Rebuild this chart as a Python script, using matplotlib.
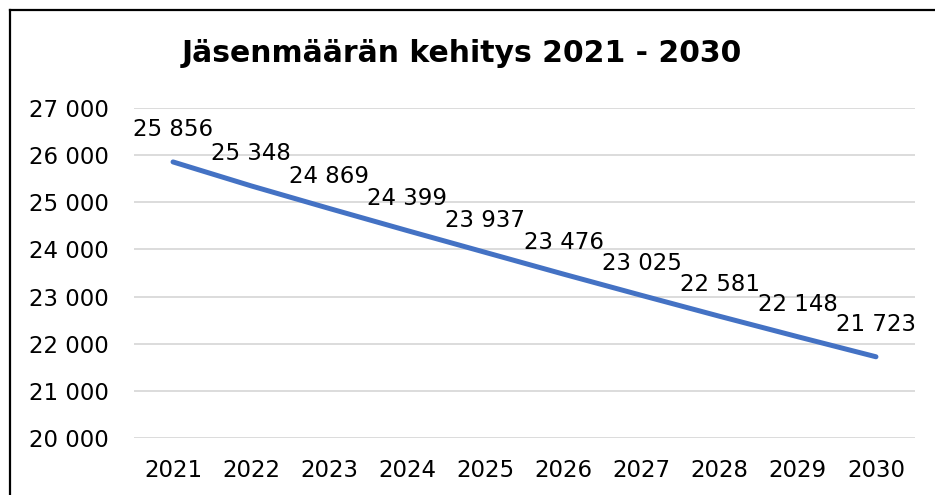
import matplotlib
matplotlib.use("Agg")
import matplotlib.pyplot as plt
from matplotlib.lines import Line2D
from matplotlib.ticker import FuncFormatter

years = ["2021", "2022", "2023", "2024", "2025", "2026", "2027", "2028", "2029", "2030"]
members = [25856, 25348, 24869, 24399, 23937, 23476, 23025, 22581, 22148, 21723]
y_ticks = [20000, 21000, 22000, 23000, 24000, 25000, 26000, 27000]


def fmt(v):
    return f"{int(v):,}".replace(",", " ")


plt.rcParams["font.family"] = ["DejaVu Sans"]

fig = plt.figure(figsize=(9.35, 4.95), dpi=100)
ax = fig.add_axes([134 / 935, 1 - 438 / 495, (915 - 134) / 935, (438 - 108) / 495])

x = list(range(len(years)))
ax.plot(x, members, color="#4472C4", linewidth=3.6, solid_capstyle="round", zorder=3)

for xi, v in zip(x, members):
    ax.annotate(fmt(v), (xi, v), xytext=(0, 23), textcoords="offset points",
                ha="center", va="center", fontsize=16.5, color="black", zorder=4)

ax.set_xlim(-0.5, len(years) - 0.5)
ax.set_ylim(20000, 27000)
ax.set_yticks(y_ticks)
ax.yaxis.set_major_formatter(FuncFormatter(lambda v, p: fmt(v)))
ax.set_xticks(x)
ax.set_xticklabels(years)
ax.tick_params(axis="both", length=0, labelsize=16.5, colors="black")
ax.tick_params(axis="y", pad=18)
ax.tick_params(axis="x", pad=15)
ax.grid(axis="y", color="#D9D9D9", linewidth=1.3)
ax.set_axisbelow(True)
for s in ax.spines.values():
    s.set_visible(False)

fig.text(462 / 935, 1 - 54 / 495, "Jäsenmäärän kehitys 2021 - 2030",
         ha="center", va="center", fontsize=21.5, fontweight="bold")

# outer frame (only top and left edges visible in the crop)
fig.add_artist(Line2D([9.5 / 935, 1], [1 - 9.5 / 495, 1 - 9.5 / 495],
                      transform=fig.transFigure, color="black", linewidth=1.6))
fig.add_artist(Line2D([9.5 / 935, 9.5 / 935], [0, 1 - 9.5 / 495],
                      transform=fig.transFigure, color="black", linewidth=1.6))

fig.savefig("out.png", dpi=100)
